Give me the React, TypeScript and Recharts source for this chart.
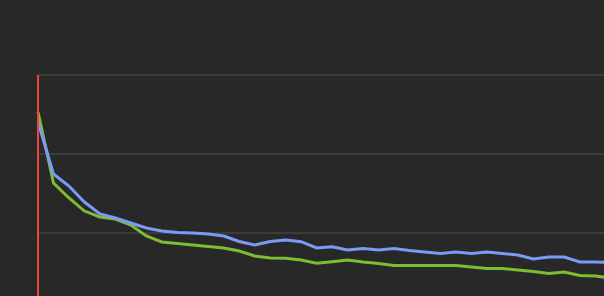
import React from "react";
import { LineChart, Line, XAxis, YAxis, CartesianGrid, ReferenceLine } from "recharts";

const steps: number[] = Array.from({ length: 38 }, (_, i) => i);

const blueSeries: number[] = [
  3.405, 2.747, 2.595, 2.392, 2.241, 2.19, 2.127, 2.063, 2.025, 2.006,
  2.0, 1.987, 1.962, 1.892, 1.848, 1.892, 1.911, 1.89, 1.81, 1.827,
  1.785, 1.804, 1.785, 1.804, 1.778, 1.759, 1.741, 1.759, 1.741, 1.759,
  1.741, 1.722, 1.671, 1.696, 1.696, 1.633, 1.633, 1.627,
];

const greenSeries: number[] = [
  3.532, 2.633, 2.443, 2.278, 2.203, 2.177, 2.101, 1.962, 1.886, 1.867,
  1.848, 1.829, 1.81, 1.772, 1.709, 1.684, 1.68, 1.658, 1.616, 1.637,
  1.658, 1.633, 1.614, 1.589, 1.589, 1.589, 1.589, 1.589, 1.57, 1.551,
  1.551, 1.532, 1.513, 1.487, 1.506, 1.462, 1.456, 1.43,
];

const yTicks: number[] = [0, 1, 2, 3, 4];

const data = steps.map((s, i) => ({ step: s, blue: blueSeries[i], green: greenSeries[i] }));

export default function App() {
  return (
    <div
      style={{
        position: "fixed",
        left: 0,
        top: 0,
        width: 604,
        height: 296,
        overflow: "hidden",
        background: "#282828",
      }}
    >
      <LineChart
        width={700}
        height={420}
        data={data}
        margin={{ top: 75, left: 38, right: 42.8, bottom: 29 }}
      >
        <CartesianGrid vertical={false} stroke="#3b3b3b" strokeWidth={2} />
        <XAxis dataKey="step" type="number" domain={[0, 40]} hide />
        <YAxis type="number" domain={[0, 4]} ticks={yTicks} hide />
        <Line
          type="linear"
          dataKey="green"
          stroke="#7cbd33"
          strokeWidth={3}
          dot={false}
          isAnimationActive={false}
        />
        <Line
          type="linear"
          dataKey="blue"
          stroke="#7b9af6"
          strokeWidth={3}
          dot={false}
          isAnimationActive={false}
        />
        <ReferenceLine x={0} stroke="#e8453c" strokeWidth={2} />
      </LineChart>
    </div>
  );
}
